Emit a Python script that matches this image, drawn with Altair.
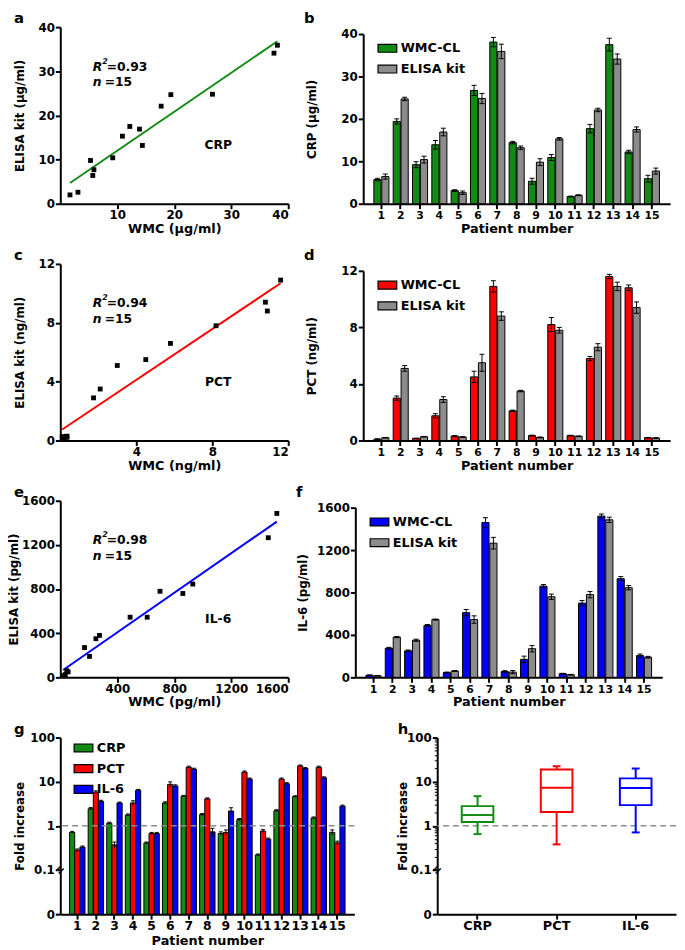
import altair as alt
import numpy as np
import pandas as pd

FONT = "DejaVu Sans"
GREEN = "#138a13"
RED = "#ff0000"
BLUE = "#0000ff"
GRAY = "#8c8c8c"

# ---------------- data ----------------
patients = list(range(1, 16))
series = ["WMC-CL", "ELISA kit"]
markers = ["CRP", "PCT", "IL-6"]

crp_wmc = [5.7, 19.4, 9.2, 13.9, 3.1, 26.7, 38.1, 14.4, 5.3, 10.9, 1.7, 17.7, 37.5, 12.2, 5.9]
crp_elisa = [6.4, 24.7, 10.4, 16.9, 2.6, 24.8, 35.9, 13.2, 9.8, 15.3, 2.0, 22.1, 34.1, 17.5, 7.7]
crp_wmc_err = [0.3, 0.6, 0.7, 1.0, 0.2, 1.2, 1.1, 0.3, 0.7, 0.7, 0.1, 1.0, 1.5, 0.4, 0.8]
crp_elisa_err = [0.6, 0.4, 0.8, 0.9, 0.4, 1.2, 1.7, 0.4, 0.8, 0.3, 0.1, 0.4, 1.2, 0.6, 0.7]

pct_wmc = [0.10, 3.0, 0.15, 1.75, 0.32, 4.5, 10.9, 2.1, 0.35, 8.2, 0.35, 5.8, 11.6, 10.8, 0.20]
pct_elisa = [0.20, 5.1, 0.27, 2.9, 0.25, 5.5, 8.8, 3.5, 0.22, 7.8, 0.30, 6.6, 10.9, 9.4, 0.18]
pct_wmc_err = [0.02, 0.15, 0.02, 0.15, 0.03, 0.4, 0.4, 0.05, 0.03, 0.5, 0.02, 0.15, 0.15, 0.2, 0.02]
pct_elisa_err = [0.02, 0.2, 0.02, 0.2, 0.02, 0.6, 0.3, 0.05, 0.03, 0.2, 0.02, 0.25, 0.3, 0.4, 0.02]

il6_wmc = [20, 275, 250, 490, 45, 610, 1460, 55, 170, 860, 35, 700, 1520, 930, 205]
il6_elisa = [15, 380, 350, 545, 60, 545, 1265, 50, 270, 760, 25, 780, 1485, 845, 190]
il6_wmc_err = [3, 8, 8, 8, 5, 30, 45, 8, 30, 15, 3, 25, 20, 20, 15]
il6_elisa_err = [3, 6, 10, 5, 5, 35, 55, 15, 30, 25, 3, 30, 25, 20, 8]

fold_crp = [0.71, 2.44, 1.15, 1.76, 0.41, 3.3, 4.7, 1.8, 0.67, 1.39, 0.22, 2.2, 4.6, 1.51, 0.71]
fold_pct = [0.28, 5.8, 0.37, 3.3, 0.67, 8.7, 21.3, 4.1, 0.71, 16.5, 0.76, 11.5, 22.8, 21.3, 0.41]
fold_il6 = [0.33, 3.6, 3.3, 6.4, 0.67, 8.0, 19.2, 0.73, 2.17, 11.5, 0.50, 9.0, 19.9, 12.3, 2.8]
fold_crp_err = [0.04, 0.15, 0.06, 0.1, 0.02, 0.2, 0.2, 0.1, 0.06, 0.08, 0.01, 0.12, 0.2, 0.08, 0.1]
fold_pct_err = [0.02, 0.4, 0.06, 0.4, 0.04, 1.2, 1.2, 0.2, 0.1, 1.0, 0.06, 0.6, 1.0, 1.2, 0.04]
fold_il6_err = [0.02, 0.2, 0.15, 0.3, 0.04, 0.5, 1.0, 0.15, 0.4, 0.6, 0.03, 0.5, 1.0, 0.6, 0.15]

box_low = [0.65, 0.38, 0.71]
box_q1 = [1.23, 2.06, 2.95]
box_med = [1.76, 7.3, 7.2]
box_q3 = [2.8, 18.9, 11.9]
box_high = [4.7, 22.4, 19.9]

fold_reference = [1.0]
fold_break = [0.1]

crp_ticks = [0, 10, 20, 30, 40]
pct_ticks = [0, 4, 8, 12]
il6_ticks = [0, 400, 800, 1200, 1600]
fold_major = [0, 0.1, 1, 10, 100]
fold_labels = ["0", "0.1", "1", "10", "100"]
fold_minor = [k * d for d in (0.1, 1, 10) for k in range(2, 10)]

# ---------------- layout ----------------
LEFT_W, RIGHT_W, G_W, H_W = 231, 311, 298, 242
SC_H, FOLD_H = 179, 179
BAR_TOP = 7  # bar panels start a little lower than the scatter panels
LETTER_Y = -16


def tpos(v):
    return float(np.log10(v) + 2) if v >= 0.1 else float(v * 10)


def T(f):
    return f"datum.{f} >= 0.1 ? log(datum.{f}) / LN10 + 2 : datum.{f} * 10"


def text_layer(s, x, y, size=12.5, style="normal", align="left", baseline="alphabetic"):
    return alt.Chart(pd.DataFrame({"t": [s]})).mark_text(
        font=FONT, fontSize=size, fontWeight="bold", fontStyle=style, align=align,
        baseline=baseline, color="black"
    ).encode(text="t:N", x=alt.value(x), y=alt.value(y))


def letter_layer(s, x, y=LETTER_Y):
    return text_layer(s, x, y, size=15, baseline="top")


def legend_spec(x, y):
    return alt.Legend(
        title=None, orient="none", legendX=x, legendY=y,
        symbolType="M-1,-0.42H1V0.42H-1Z", symbolSize=361,
        symbolStrokeColor="black", symbolStrokeWidth=1.2, symbolOpacity=1,
        labelFont=FONT, labelFontSize=13, labelFontWeight="bold", labelColor="black",
        labelOffset=3, rowPadding=3, padding=0,
    )


def scatter_panel(wmc, elisa, ticks, color, letter, r2, name, unit, title_x):
    vmax = ticks[-1]
    df = pd.DataFrame({"wmc": wmc, "elisa": elisa})
    xs = alt.X("wmc:Q", scale=alt.Scale(domain=[0, vmax], nice=False),
               axis=alt.Axis(values=ticks[1:], title=f"WMC ({unit})", format="d"))
    ys = alt.Y("elisa:Q", scale=alt.Scale(domain=[0, vmax], nice=False),
               axis=alt.Axis(values=ticks, title=f"ELISA kit ({unit})", format="d",
                             titleX=title_x, titleY=SC_H / 2))
    base = alt.Chart(df)
    line = base.transform_regression("wmc", "elisa").mark_line(
        color=color, strokeWidth=2).encode(x=xs, y=ys)
    pts = base.mark_square(size=24, color="black", opacity=1).encode(x=xs, y=ys)
    return alt.layer(
        line, pts,
        letter_layer(letter, -47),
        text_layer("R", 33, 44, style="italic"),
        text_layer("2", 42.5, 37, size=8, style="italic"),
        text_layer(f"={r2}", 47, 44),
        text_layer("n", 33, 60, style="italic"),
        text_layer("=15", 45, 60),
        text_layer(name, 160, 120, align="center", baseline="middle"),
    ).properties(width=LEFT_W, height=SC_H)


def bar_panel(wmc, elisa, wmc_err, elisa_err, color, ticks, ytitle, letter, title_x):
    df = pd.DataFrame({
        "patient": patients * 2,
        "series": [series[0]] * 15 + [series[1]] * 15,
        "value": wmc + elisa,
        "err": wmc_err + elisa_err,
    })
    base = alt.Chart(df).transform_calculate(
        lo="datum.value - datum.err", hi="datum.value + datum.err")
    x = alt.X("patient:O", scale=alt.Scale(paddingInner=0.22, paddingOuter=0.55),
              axis=alt.Axis(labelAngle=0, title="Patient number", labelFontSize=11))
    xo = alt.XOffset("series:N", scale=alt.Scale(domain=series, paddingInner=0.1))
    ysc = alt.Scale(domain=[0, ticks[-1]], range=[SC_H, BAR_TOP], nice=False)
    yax = alt.Axis(values=ticks, title=ytitle, titleX=title_x, titleY=(SC_H + BAR_TOP) / 2,
                   format="d")
    bars = base.mark_bar(stroke="black", strokeWidth=1, opacity=1).encode(
        x=x, xOffset=xo, y=alt.Y("value:Q", scale=ysc, axis=yax),
        color=alt.Color("series:N", scale=alt.Scale(domain=series, range=[color, GRAY]),
                        legend=legend_spec(14, BAR_TOP + 4)))
    whisk = base.mark_rule(color="black", strokeWidth=1).encode(
        x=x, xOffset=xo, y=alt.Y("lo:Q", scale=ysc, axis=yax), y2="hi:Q")
    cap_hi = base.mark_tick(color="black", size=5, thickness=1, opacity=1).encode(
        x=x, xOffset=xo, y=alt.Y("hi:Q", scale=ysc, axis=yax))
    cap_lo = base.mark_tick(color="black", size=5, thickness=1, opacity=1).encode(
        x=x, xOffset=xo, y=alt.Y("lo:Q", scale=ysc, axis=yax))
    return alt.layer(
        bars, whisk, cap_hi, cap_lo, letter_layer(letter, -60)
    ).properties(width=RIGHT_W, height=SC_H)


fold_scale = alt.Scale(domain=[tpos(fold_major[0]), tpos(fold_major[-1])], nice=False)
label_expr = "datum.value % 1 === 0 ? " + str(fold_labels) + "[datum.value] : ''"


def fold_axis(title_x, minor):
    vals = [tpos(v) for v in fold_major]
    if minor:
        vals += [tpos(v) for v in fold_minor]
    return alt.Axis(
        values=vals, labelExpr=label_expr, labelOverlap=False, title="Fold increase",
        titleX=title_x, titleY=FOLD_H / 2,
        tickSize={"condition": {"test": "datum.value % 1 === 0", "value": 5}, "value": 3},
        tickWidth={"condition": {"test": "datum.value % 1 === 0", "value": 2}, "value": 1},
    )


def ref_layers(yax):
    ref = alt.Chart(pd.DataFrame({"value": fold_reference})).transform_calculate(
        t=T("value")).mark_rule(strokeDash=[6, 4], color=GRAY, strokeWidth=1.5).encode(
        y=alt.Y("t:Q", scale=fold_scale, axis=yax))
    brk = alt.Chart(pd.DataFrame({"value": fold_break})).transform_calculate(
        t=T("value")).mark_text(text="=", angle=315, fontSize=14, fontWeight="bold",
                                align="center", baseline="middle", color="black").encode(
        x=alt.value(0), y=alt.Y("t:Q", scale=fold_scale, axis=yax))
    return ref, brk


def indep(ch):
    return ch.resolve_scale(
        x="independent", y="independent", color="independent",
        xOffset="independent", stroke="independent",
    ).resolve_legend(color="independent", stroke="independent")


# ---------------- panels ----------------
pa = scatter_panel(crp_wmc, crp_elisa, crp_ticks, GREEN, "a", "0.93", "CRP", "µg/ml", -34)
pb = bar_panel(crp_wmc, crp_elisa, crp_wmc_err, crp_elisa_err, GREEN, crp_ticks,
               "CRP (µg/ml)", "b", -45)
pc = scatter_panel(pct_wmc, pct_elisa, pct_ticks, RED, "c", "0.94", "PCT", "ng/ml", -34)
pd_ = bar_panel(pct_wmc, pct_elisa, pct_wmc_err, pct_elisa_err, RED, pct_ticks,
                "PCT (ng/ml)", "d", -45)
pe = scatter_panel(il6_wmc, il6_elisa, il6_ticks, BLUE, "e", "0.98", "IL-6", "pg/ml", -40)
pf = bar_panel(il6_wmc, il6_elisa, il6_wmc_err, il6_elisa_err, BLUE, il6_ticks,
               "IL-6 (pg/ml)", "f", -46)

# g: fold increase per patient
g_df = pd.DataFrame({
    "patient": patients * 3,
    "marker": [markers[0]] * 15 + [markers[1]] * 15 + [markers[2]] * 15,
    "value": fold_crp + fold_pct + fold_il6,
    "err": fold_crp_err + fold_pct_err + fold_il6_err,
})
g_base = alt.Chart(g_df).transform_calculate(
    lo="max(datum.value - datum.err, 0.001)", hi="datum.value + datum.err"
).transform_calculate(t=T("value"), tlo=T("lo"), thi=T("hi"))
g_yax = fold_axis(-34, False)
g_x = alt.X("patient:O", scale=alt.Scale(paddingInner=0.17, paddingOuter=0.5),
            axis=alt.Axis(labelAngle=0, title="Patient number", labelFontSize=12.5))
g_xo = alt.XOffset("marker:N", scale=alt.Scale(domain=markers, paddingInner=0))
g_bars = g_base.mark_bar(stroke="black", strokeWidth=1, opacity=1).encode(
    x=g_x, xOffset=g_xo, y=alt.Y("t:Q", scale=fold_scale, axis=g_yax),
    color=alt.Color("marker:N", scale=alt.Scale(domain=markers, range=[GREEN, RED, BLUE]),
                    legend=legend_spec(13, 0)))
g_whisk = g_base.mark_rule(color="black", strokeWidth=1).encode(
    x=g_x, xOffset=g_xo, y=alt.Y("tlo:Q", scale=fold_scale, axis=g_yax), y2="thi:Q")
g_cap = g_base.mark_tick(color="black", size=4, thickness=1, opacity=1).encode(
    x=g_x, xOffset=g_xo, y=alt.Y("thi:Q", scale=fold_scale, axis=g_yax))
g_ref, g_brk = ref_layers(g_yax)
pg = alt.layer(g_bars, g_whisk, g_cap, g_ref, g_brk, letter_layer("g", -47)
               ).properties(width=G_W, height=FOLD_H)

# h: box plot
box_df = pd.DataFrame({"marker": markers, "low": box_low, "q1": box_q1, "med": box_med,
                       "q3": box_q3, "high": box_high})
hb = alt.Chart(box_df).transform_calculate(
    tl=T("low"), tq1=T("q1"), tm=T("med"), tq3=T("q3"), th=T("high"))
h_yax = fold_axis(-28, True)
h_x = alt.X("marker:N", sort=markers,
            scale=alt.Scale(domain=markers, paddingInner=0.6, paddingOuter=0.31),
            axis=alt.Axis(labelAngle=0, title=None, labelFontSize=13))
h_col = alt.Color("marker:N", scale=alt.Scale(domain=markers, range=[GREEN, RED, BLUE]),
                  legend=None)
h_ref, h_brk = ref_layers(h_yax)
h_wl = hb.mark_rule(strokeWidth=2).encode(
    x=h_x, y=alt.Y("tl:Q", scale=fold_scale, axis=h_yax), y2="tq1:Q", color=h_col)
h_wh = hb.mark_rule(strokeWidth=2).encode(
    x=h_x, y=alt.Y("tq3:Q", scale=fold_scale, axis=h_yax), y2="th:Q", color=h_col)
h_box = hb.mark_bar(fill="white", strokeWidth=2, opacity=1).encode(
    x=h_x, y=alt.Y("tq1:Q", scale=fold_scale, axis=h_yax), y2="tq3:Q",
    stroke=alt.Stroke("marker:N", scale=alt.Scale(domain=markers, range=[GREEN, RED, BLUE]),
                      legend=None))
h_med = hb.mark_tick(thickness=2, size=31, opacity=1).encode(
    x=h_x, y=alt.Y("tm:Q", scale=fold_scale, axis=h_yax), color=h_col)
h_cl = hb.mark_tick(thickness=2, size=8, opacity=1).encode(
    x=h_x, y=alt.Y("tl:Q", scale=fold_scale, axis=h_yax), color=h_col)
h_ch = hb.mark_tick(thickness=2, size=8, opacity=1).encode(
    x=h_x, y=alt.Y("th:Q", scale=fold_scale, axis=h_yax), color=h_col)
ph = alt.layer(h_ref, h_wl, h_wh, h_box, h_med, h_cl, h_ch, h_brk,
               letter_layer("h", -40)).properties(width=H_W, height=FOLD_H)

row1 = indep(alt.hconcat(pa, pb, spacing=15))
row2 = indep(alt.hconcat(pc, pd_, spacing=15))
row3 = indep(alt.hconcat(pe, pf, spacing=7))
row4 = indep(alt.hconcat(pg, ph, spacing=42))

chart = indep(alt.vconcat(row1, row2, row3, row4, spacing=13)).properties(
    padding={"top": -3, "left": 0, "right": 0, "bottom": 0}
).configure_view(stroke=None).configure_axis(
    domainColor="black", domainWidth=2, tickColor="black", tickWidth=2, tickSize=5,
    labelColor="black", labelFont=FONT, labelFontSize=12, labelFontWeight="bold",
    labelPadding=1, titleFont=FONT, titleFontSize=13, titleFontWeight="bold",
    titleColor="black", grid=False, titlePadding=2,
).configure_axisY(titleFontSize=12)

chart.save("out.html", embed_options={"renderer": "svg", "actions": False})
